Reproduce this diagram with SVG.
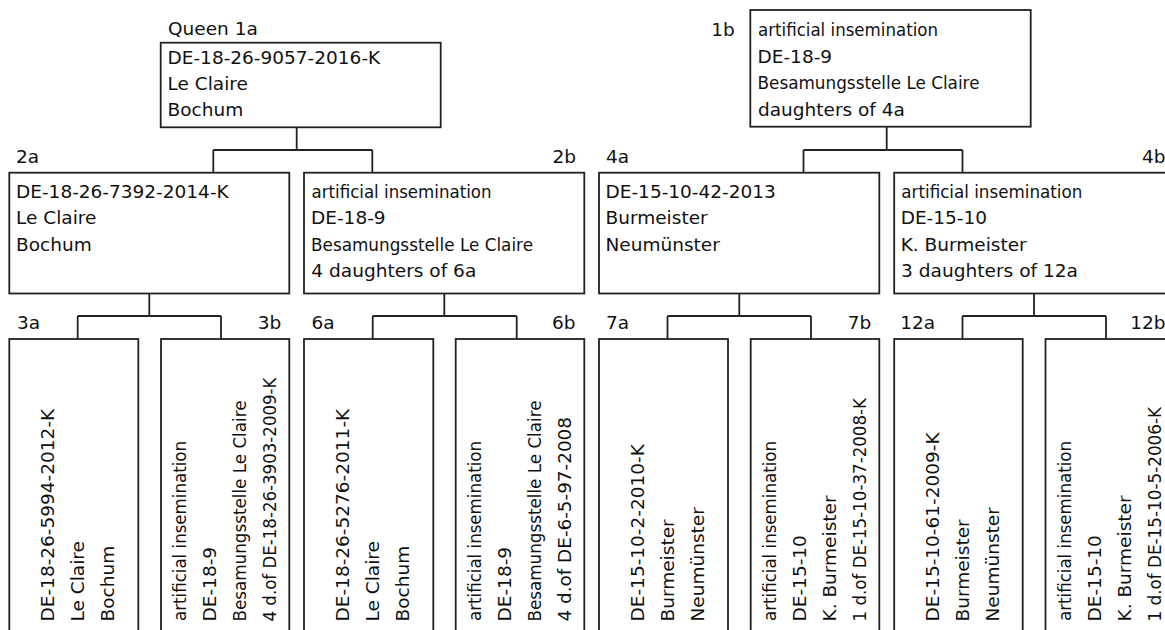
<svg xmlns="http://www.w3.org/2000/svg" width="1165" height="630" viewBox="0 0 1165 630">
<style>
.box{fill:#fff;stroke:#222;stroke-width:1.8}
.con{fill:none;stroke:#222;stroke-width:1.8}
.t{font-family:"DejaVu Sans","Liberation Sans",sans-serif;font-size:18.5px;fill:#111}
</style>
<rect width="1165" height="630" fill="#fff"/>
<g id="connectors">
<path class="con" d="M296.7,127.3V150M213.3,150H372.3M213.3,150V172.7M372.3,150V172.7"/>
<path class="con" d="M886.7,126.7V150M803.5,150H962.5M803.5,150V172.7M962.5,150V172.7"/>
<path class="con" d="M149.3,293.5V316M77.7,316H221M77.7,316V339M221,316V339"/>
<path class="con" d="M444.3,293.5V316M372.7,316H516.7M372.7,316V339M516.7,316V339"/>
<path class="con" d="M739.3,293.5V316M667.5,316H811M667.5,316V339M811,316V339"/>
<path class="con" d="M1034,293.5V316M962.5,316H1106M962.5,316V339M1106,316V339"/>
</g>
<g id="n1a">
<rect class="box" x="160.7" y="42.7" width="280" height="84.6"/>
<text class="t" x="168" y="35">Queen 1a</text>
<text class="t" x="167.5" y="64">DE-18-26-9057-2016-K</text>
<text class="t" x="167.5" y="90">Le Claire</text>
<text class="t" x="167.5" y="116">Bochum</text>
</g>
<g id="n1b">
<rect class="box" x="750.3" y="10" width="280.4" height="116.7"/>
<text class="t" x="711.3" y="35.5">1b</text>
<text class="t" x="758" y="36" textLength="180" lengthAdjust="spacingAndGlyphs">artificial insemination</text>
<text class="t" x="757.5" y="62.5">DE-18-9</text>
<text class="t" x="757.5" y="89" textLength="222" lengthAdjust="spacingAndGlyphs">Besamungsstelle Le Claire</text>
<text class="t" x="758" y="115.5">daughters of 4a</text>
</g>
<g id="n2a">
<rect class="box" x="9.3" y="172.7" width="280" height="120.8"/>
<text class="t" x="16" y="162.5">2a</text>
<text class="t" x="16" y="197.8">DE-18-26-7392-2014-K</text>
<text class="t" x="16" y="224.3">Le Claire</text>
<text class="t" x="16" y="250.8">Bochum</text>
</g>
<g id="n2b">
<rect class="box" x="304" y="172.7" width="280.3" height="120.8"/>
<text class="t" x="552.5" y="162.5">2b</text>
<text class="t" x="311.5" y="197.8" textLength="180" lengthAdjust="spacingAndGlyphs">artificial insemination</text>
<text class="t" x="311" y="224.3">DE-18-9</text>
<text class="t" x="311" y="250.8" textLength="222" lengthAdjust="spacingAndGlyphs">Besamungsstelle Le Claire</text>
<text class="t" x="311.3" y="277.3" textLength="165" lengthAdjust="spacingAndGlyphs">4 daughters of 6a</text>
</g>
<g id="n4a">
<rect class="box" x="599" y="172.7" width="280.3" height="120.8"/>
<text class="t" x="606" y="162.5">4a</text>
<text class="t" x="605.5" y="197.8">DE-15-10-42-2013</text>
<text class="t" x="605.5" y="224.3">Burmeister</text>
<text class="t" x="605.5" y="250.8">Neumünster</text>
</g>
<g id="n4b">
<rect class="box" x="894.2" y="172.7" width="280" height="120.8"/>
<text class="t" x="1142" y="162.5">4b</text>
<text class="t" x="901.3" y="197.8" textLength="181" lengthAdjust="spacingAndGlyphs">artificial insemination</text>
<text class="t" x="900.7" y="224.3">DE-15-10</text>
<text class="t" x="900.7" y="250.8">K. Burmeister</text>
<text class="t" x="901" y="277.3" textLength="177" lengthAdjust="spacingAndGlyphs">3 daughters of 12a</text>
</g>
<g id="n3a">
<rect class="box" x="9.3" y="339" width="129" height="310"/>
<text class="t" x="17" y="329.3">3a</text>
<text class="t" transform="translate(53.8,621.5) rotate(-90)">DE-18-26-5994-2012-K</text>
<text class="t" transform="translate(83.8,621.5) rotate(-90)">Le Claire</text>
<text class="t" transform="translate(113.8,621.5) rotate(-90)">Bochum</text>
</g>
<g id="n3b">
<rect class="box" x="161" y="339" width="128.3" height="310"/>
<text class="t" x="257.7" y="329.3">3b</text>
<text class="t" transform="translate(186.3,621) rotate(-90)" textLength="180" lengthAdjust="spacingAndGlyphs">artificial insemination</text>
<text class="t" transform="translate(216.3,621.5) rotate(-90)">DE-18-9</text>
<text class="t" transform="translate(246,621.5) rotate(-90)" textLength="221" lengthAdjust="spacingAndGlyphs">Besamungsstelle Le Claire</text>
<text class="t" transform="translate(276,621.5) rotate(-90)" textLength="244" lengthAdjust="spacingAndGlyphs">4 d.of DE-18-26-3903-2009-K</text>
</g>
<g id="n6a">
<rect class="box" x="304" y="339" width="129.3" height="310"/>
<text class="t" x="311.5" y="329.3">6a</text>
<text class="t" transform="translate(348.5,621.5) rotate(-90)">DE-18-26-5276-2011-K</text>
<text class="t" transform="translate(378.5,621.5) rotate(-90)">Le Claire</text>
<text class="t" transform="translate(408.5,621.5) rotate(-90)">Bochum</text>
</g>
<g id="n6b">
<rect class="box" x="455.7" y="339" width="128.6" height="310"/>
<text class="t" x="552" y="329.3">6b</text>
<text class="t" transform="translate(481,621) rotate(-90)" textLength="180" lengthAdjust="spacingAndGlyphs">artificial insemination</text>
<text class="t" transform="translate(511,621.5) rotate(-90)">DE-18-9</text>
<text class="t" transform="translate(540.7,621.5) rotate(-90)" textLength="221" lengthAdjust="spacingAndGlyphs">Besamungsstelle Le Claire</text>
<text class="t" transform="translate(570.7,621.5) rotate(-90)" textLength="204.5" lengthAdjust="spacingAndGlyphs">4 d.of DE-6-5-97-2008</text>
</g>
<g id="n7a">
<rect class="box" x="599" y="339" width="129" height="310"/>
<text class="t" x="606" y="329.3">7a</text>
<text class="t" transform="translate(643.5,621.5) rotate(-90)">DE-15-10-2-2010-K</text>
<text class="t" transform="translate(673.5,621.5) rotate(-90)">Burmeister</text>
<text class="t" transform="translate(703.5,621.5) rotate(-90)">Neumünster</text>
</g>
<g id="n7b">
<rect class="box" x="750.7" y="339" width="128.6" height="310"/>
<text class="t" x="847.7" y="329.3">7b</text>
<text class="t" transform="translate(776,621) rotate(-90)" textLength="180" lengthAdjust="spacingAndGlyphs">artificial insemination</text>
<text class="t" transform="translate(806,621.5) rotate(-90)">DE-15-10</text>
<text class="t" transform="translate(835.7,621.5) rotate(-90)">K. Burmeister</text>
<text class="t" transform="translate(865.7,621.5) rotate(-90)" textLength="223.5" lengthAdjust="spacingAndGlyphs">1 d.of DE-15-10-37-2008-K</text>
</g>
<g id="n12a">
<rect class="box" x="894.2" y="339" width="128.5" height="310"/>
<text class="t" x="900.3" y="329.3">12a</text>
<text class="t" transform="translate(938.7,621.5) rotate(-90)">DE-15-10-61-2009-K</text>
<text class="t" transform="translate(968.7,621.5) rotate(-90)">Burmeister</text>
<text class="t" transform="translate(998.7,621.5) rotate(-90)">Neumünster</text>
</g>
<g id="n12b">
<rect class="box" x="1045.5" y="339" width="129" height="310"/>
<text class="t" x="1130.3" y="329.3">12b</text>
<text class="t" transform="translate(1070.8,621) rotate(-90)" textLength="180" lengthAdjust="spacingAndGlyphs">artificial insemination</text>
<text class="t" transform="translate(1100.8,621.5) rotate(-90)">DE-15-10</text>
<text class="t" transform="translate(1130.5,621.5) rotate(-90)">K. Burmeister</text>
<text class="t" transform="translate(1160.5,621.5) rotate(-90)" textLength="214.5" lengthAdjust="spacingAndGlyphs">1 d.of DE-15-10-5-2006-K</text>
</g>
</svg>
